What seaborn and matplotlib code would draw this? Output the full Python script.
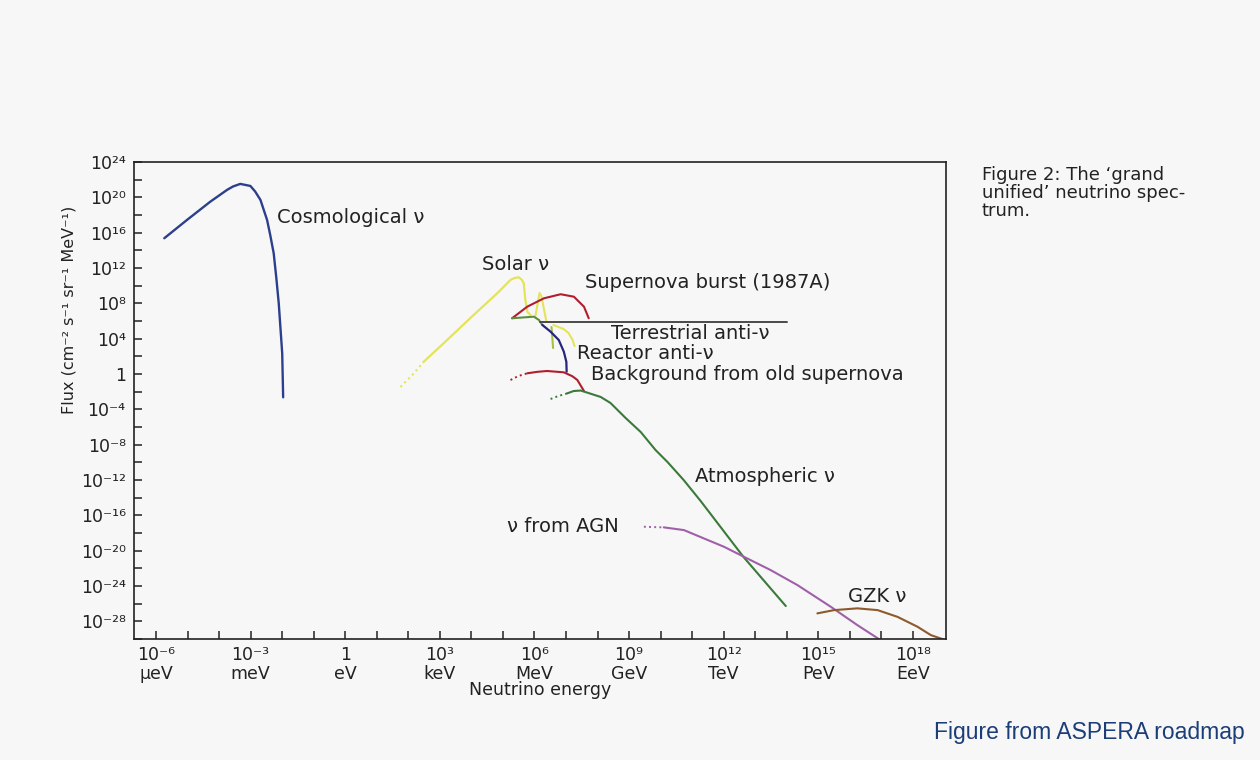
import numpy as np
import pandas as pd
import matplotlib
matplotlib.use("Agg")
import matplotlib.pyplot as plt
import seaborn as sns
from matplotlib.ticker import FixedLocator, FixedFormatter, NullFormatter

# ---------------- data: log10(E/eV), log10(flux) ----------------
cosmo_logE = [-5.74, -5.02, -4.28, -3.75, -3.56, -3.33, -3.01, -2.86, -2.69, -2.48, -2.38,
              -2.27, -2.19, -2.11, -2.00, -1.97]
cosmo_logF = [15.37, 17.44, 19.51, 20.84, 21.23, 21.52, 21.29, 20.67, 19.71, 17.44, 15.74,
              13.67, 10.99, 8.01, 2.34, -2.64]

solar_dot_logE = [1.75, 2.13, 2.48]
solar_dot_logF = [-1.47, -0.10, 1.36]
solar_logE = [2.48, 3.23, 4.07, 4.82, 5.24, 5.37, 5.50, 5.59, 5.66, 5.71, 5.78, 5.87]
solar_logF = [1.36, 3.85, 6.68, 9.14, 10.65, 10.87, 10.95, 10.70, 10.27, 8.38, 7.00, 6.70]
solar_line_logE = [6.03, 6.16, 6.22, 6.38]
solar_line_logF = [6.57, 9.17, 8.83, 5.89]
solar_hep_logE = [6.54, 6.59]
solar_hep_logF = [5.32, 2.94]
solar_b8_logE = [6.60, 6.76, 6.92, 7.08, 7.21, 7.27]
solar_b8_logF = [5.55, 5.32, 5.10, 4.64, 3.85, 3.17]

sn_burst_logE = [5.29, 5.77, 6.30, 6.83, 7.25, 7.57, 7.72]
sn_burst_logF = [6.31, 7.62, 8.57, 9.03, 8.75, 7.62, 6.31]

terr_logE = [5.29, 5.98, 6.14, 6.25]
terr_logF = [6.31, 6.49, 6.12, 5.55]
terr_line_logE = [6.19, 14.02]
terr_line_logF = [5.92, 5.92]

reactor_logE = [6.25, 6.51, 6.77, 6.93, 7.01, 7.02]
reactor_logF = [5.55, 4.79, 3.85, 2.53, 1.39, 0.26]

oldsn_dot_logE = [5.24, 5.49, 5.77]
oldsn_dot_logF = [-0.68, -0.23, 0.08]
oldsn_logE = [5.77, 6.10, 6.40, 6.93, 7.20, 7.36, 7.57]
oldsn_logF = [0.08, 0.25, 0.34, 0.19, -0.25, -0.68, -1.93]

atm_dot_logE = [6.51, 6.76, 7.04]
atm_dot_logF = [-2.83, -2.49, -2.19]
atm_logE = [7.04, 7.24, 7.46, 7.71, 8.10, 8.41, 8.89, 9.37, 9.84, 10.22, 10.73, 11.27, 12.63, 13.97]
atm_logF = [-2.19, -1.93, -1.87, -2.15, -2.60, -3.28, -4.98, -6.57, -8.61, -9.97, -12.0, -14.38, -20.72, -26.27]

agn_dot_logE = [9.47, 9.78, 10.10]
agn_dot_logF = [-17.29, -17.33, -17.36]
agn_logE = [10.10, 10.74, 11.37, 12.01, 12.64, 13.49, 14.34, 15.40, 16.24, 16.92]
agn_logF = [-17.36, -17.67, -18.61, -19.56, -20.69, -22.20, -23.90, -26.36, -28.43, -30.0]

gzk_logE = [14.97, 15.50, 16.24, 16.88, 17.51, 18.15, 18.57, 18.97]
gzk_logF = [-27.10, -26.73, -26.53, -26.73, -27.49, -28.62, -29.56, -30.05]

x_tick_exp = [-6, -3, 0, 3, 6, 9, 12, 15, 18]
x_tick_labels = ["10⁻⁶\nμeV", "10⁻³\nmeV", "1\neV", "10³\nkeV", "10⁶\nMeV",
                 "10⁹\nGeV", "10¹²\nTeV", "10¹⁵\nPeV", "10¹⁸\nEeV"]
y_tick_exp = [24, 20, 16, 12, 8, 4, 0, -4, -8, -12, -16, -20, -24, -28]
y_tick_labels = ["10²⁴", "10²⁰", "10¹⁶", "10¹²", "10⁸", "10⁴", "1", "10⁻⁴", "10⁻⁸",
                 "10⁻¹²", "10⁻¹⁶", "10⁻²⁰", "10⁻²⁴", "10⁻²⁸"]

# ---------------- styling ----------------
sns.set_theme(style="ticks")
bg = "#f7f7f7"
plt.rcParams["font.family"] = ["DejaVu Sans"]
plt.rcParams["axes.linewidth"] = 1.2

fig = plt.figure(figsize=(12.6, 7.6), dpi=100, facecolor=bg)
ax = fig.add_axes([134 / 1260, 1 - 639 / 760, (946 - 134) / 1260, (639 - 162) / 760])
ax.set_facecolor(bg)
ax.set_xscale("log")
ax.set_yscale("log")


def curve(le, lf, color, ls="-", lw=1.5):
    df = pd.DataFrame({"E": np.power(10.0, le), "F": np.power(10.0, lf)})
    sns.lineplot(data=df, x="E", y="F", ax=ax, color=color, lw=lw, ls=ls,
                 sort=False, estimator=None, legend=False)


curve(cosmo_logE, cosmo_logF, "#2c3f8c", lw=1.7)
curve(solar_dot_logE, solar_dot_logF, "#e4e45a", ls=":", lw=1.5)
curve(solar_logE, solar_logF, "#e4e45a", lw=1.6)
curve(solar_line_logE, solar_line_logF, "#e4e45a", lw=1.5)
curve(solar_b8_logE, solar_b8_logF, "#e4e45a", lw=1.5)
curve(solar_hep_logE, solar_hep_logF, "#a8c040", lw=1.5)
curve(sn_burst_logE, sn_burst_logF, "#b01e2e", lw=1.5)
curve(terr_logE, terr_logF, "#5f8f3c", lw=1.5)
curve(terr_line_logE, terr_line_logF, "#4a4a4a", lw=1.4)
curve(reactor_logE, reactor_logF, "#26267a", lw=1.6)
curve(oldsn_dot_logE, oldsn_dot_logF, "#b01e2e", ls=":", lw=1.4)
curve(oldsn_logE, oldsn_logF, "#b01e2e", lw=1.5)
curve(atm_dot_logE, atm_dot_logF, "#3a7a3a", ls=":", lw=1.4)
curve(atm_logE, atm_logF, "#3a7a3a", lw=1.5)
curve(agn_dot_logE, agn_dot_logF, "#a060a8", ls=":", lw=1.4)
curve(agn_logE, agn_logF, "#a060a8", lw=1.5)
curve(gzk_logE, gzk_logF, "#8c5a2c", lw=1.5)

ax.set_xlim(10 ** -6.7, 10 ** 19.05)
ax.set_ylim(1e-30, 1e24)

ax.xaxis.set_major_locator(FixedLocator([10.0 ** e for e in x_tick_exp]))
ax.xaxis.set_major_formatter(FixedFormatter(x_tick_labels))
ax.xaxis.set_minor_locator(FixedLocator([10.0 ** e for e in range(-6, 19) if e % 3 != 0]))
ax.xaxis.set_minor_formatter(NullFormatter())
ax.yaxis.set_major_locator(FixedLocator([10.0 ** e for e in y_tick_exp]))
ax.yaxis.set_major_formatter(FixedFormatter(y_tick_labels))
ax.yaxis.set_minor_locator(FixedLocator([10.0 ** e for e in range(-30, 25, 2) if e % 4 != 0]))
ax.yaxis.set_minor_formatter(NullFormatter())

ax.tick_params(axis="both", which="both", direction="in", length=6, width=1.1,
               colors="#222222", top=False, right=False)
ax.tick_params(axis="x", which="major", labelsize=12.5, pad=5)
ax.tick_params(axis="y", which="major", labelsize=12.5, pad=6)
for lab in ax.get_xticklabels():
    lab.set_linespacing(1.05)
for s in ax.spines.values():
    s.set_visible(True)
    s.set_color("#222222")

ax.set_xlabel("Neutrino energy", fontsize=12.5, color="#222222", labelpad=-1)
ax.set_ylabel("")

# curve labels
lab_kw = dict(fontsize=14, color="#222222", va="center", ha="left")
ax.text(10 ** -2.16, 10 ** 17.67, "Cosmological ν", **lab_kw)
ax.text(10 ** 4.34, 10 ** 12.34, "Solar ν", **lab_kw)
ax.text(10 ** 7.59, 10 ** 10.31, "Supernova burst (1987A)", **lab_kw)
ax.text(10 ** 8.43, 10 ** 4.60, "Terrestrial anti-ν", **lab_kw)
ax.text(10 ** 7.36, 10 ** 2.30, "Reactor anti-ν", **lab_kw)
ax.text(10 ** 7.78, 10 ** -0.11, "Background from old supernova", **lab_kw)
ax.text(10 ** 11.08, 10 ** -11.63, "Atmospheric ν", **lab_kw)
ax.text(10 ** 5.13, 10 ** -17.29, "ν from AGN", **lab_kw)
ax.text(10 ** 15.93, 10 ** -25.22, "GZK ν", **lab_kw)

fig.text(69 / 1260, 1 - 310 / 760, "Flux (cm⁻² s⁻¹ sr⁻¹ MeV⁻¹)", rotation=90,
         fontsize=11.5, color="#222222", ha="center", va="center")

fig.text(982 / 1260, 1 - 166 / 760, "Figure 2: The ‘grand\nunified’ neutrino spec-\ntrum.",
         fontsize=13, color="#222222", ha="left", va="top", linespacing=1.0)

fig.text(1245 / 1260, 1 - 733 / 760, "Figure from ASPERA roadmap", ha="right", va="center",
         fontsize=16.5, color="#1b3d78", family=["Liberation Sans", "DejaVu Sans"])

fig.savefig("out.png", dpi=100, facecolor=bg)
